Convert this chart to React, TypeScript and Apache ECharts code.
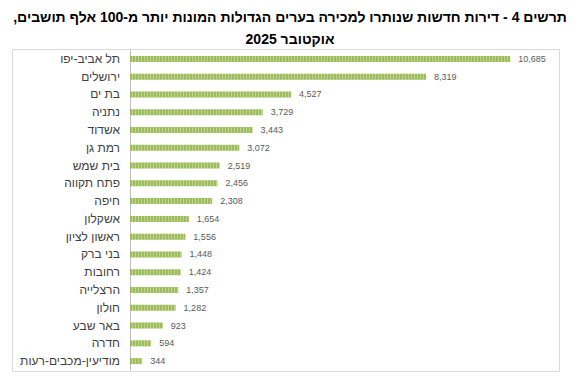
import React, { useEffect, useRef } from "react";
import * as echarts from "echarts";

const titleLine1 = "תרשים 4 - דירות חדשות שנותרו למכירה בערים הגדולות המונות יותר מ-100 אלף תושבים,";
const titleLine2 = "אוקטובר 2025";

const cities = [
  "תל אביב-יפו",
  "ירושלים",
  "בת ים",
  "נתניה",
  "אשדוד",
  "רמת גן",
  "בית שמש",
  "פתח תקווה",
  "חיפה",
  "אשקלון",
  "ראשון לציון",
  "בני ברק",
  "רחובות",
  "הרצלייה",
  "חולון",
  "באר שבע",
  "חדרה",
  "מודיעין-מכבים-רעות",
];

const apartments = [10685, 8319, 4527, 3729, 3443, 3072, 2519, 2456, 2308, 1654, 1556, 1448, 1424, 1357, 1282, 923, 594, 344];

const xMax = 12000;

const rtl = (s: string) => "\u202B" + s + "\u202C";

export default function App() {
  const ref = useRef<HTMLDivElement>(null);
  useEffect(() => {
    if (!ref.current) return;
    const chart = echarts.init(ref.current, undefined, { renderer: "svg" });
    chart.setOption({
      animation: false,
      backgroundColor: "#ffffff",
      title: [
        {
          text: rtl(titleLine1),
          left: "center",
          top: 5,
          textStyle: { fontFamily: "Liberation Sans, Arial", fontWeight: "bold", fontSize: 14, color: "#000" },
        },
        {
          text: rtl(titleLine2),
          left: "center",
          top: 27,
          textStyle: { fontFamily: "Liberation Sans, Arial", fontWeight: "bold", fontSize: 14, color: "#000" },
        },
      ],
      graphic: [
        {
          type: "rect",
          shape: { x: 12.5, y: 49.5, width: 547, height: 322 },
          style: { fill: "none", stroke: "#d9d9d9", lineWidth: 1 },
          silent: true,
        },
      ],
      grid: { left: 130, right: 23, top: 50, height: 320, containLabel: false },
      xAxis: {
        type: "value",
        min: 0,
        max: xMax,
        show: false,
        splitLine: { show: false },
      },
      yAxis: {
        type: "category",
        data: cities,
        inverse: true,
        axisLine: { show: true, lineStyle: { color: "#bfbfbf", width: 1 } },
        axisTick: { show: false },
        axisLabel: {
          margin: 10,
          fontSize: 12,
          color: "#404040",
          fontFamily: "Liberation Sans, Arial",
          formatter: (v: string) => rtl(v),
        },
      },
      series: [
        {
          type: "bar",
          data: apartments,
          barWidth: 6,
          itemStyle: {
            color: "#9cbd5a",
            decal: {
              symbol: "rect",
              symbolSize: 1,
              color: "rgba(255,255,255,0.35)",
              dashArrayX: [1, 2],
              dashArrayY: [10, 0],
              rotation: 0,
            },
          },
          label: {
            show: true,
            position: "right",
            distance: 8,
            fontSize: 9,
            color: "#595959",
            fontFamily: "Liberation Sans, Arial",
            formatter: (p: any) => Number(p.value).toLocaleString("en-US"),
          },
        },
      ],
    });
    return () => chart.dispose();
  }, []);
  return (
    <div
      ref={ref}
      style={{ position: "fixed", left: 0, top: 0, width: 580, height: 386, background: "#fff" }}
    />
  );
}
